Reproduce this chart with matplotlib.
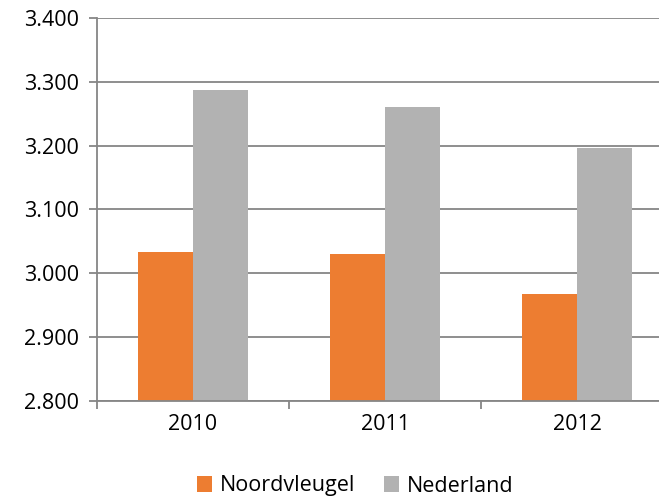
import numpy as np
import matplotlib.pyplot as plt
from matplotlib.ticker import FuncFormatter

years = ["2010", "2011", "2012"]
noordvleugel = [3034, 3031, 2967]
nederland = [3287, 3261, 3197]

plt.rcParams["font.family"] = ["Open Sans", "DejaVu Sans"]
FS = 15.5

fig = plt.figure(figsize=(6.59, 5.0), dpi=100)
ax = fig.add_axes([97 / 659, 99 / 500, 576 / 659, 383 / 500])

x = np.arange(len(years))
w = 1 / 3.5
ax.bar(x - w / 2, noordvleugel, w, color="#ED7D31", label="Noordvleugel", zorder=2)
ax.bar(x + w / 2, nederland, w, color="#B2B2B2", label="Nederland", zorder=2)

ax.set_xlim(-0.5, len(years) - 0.5)
ax.set_ylim(2800, 3400)
ax.set_yticks(np.arange(2800, 3401, 100))
ax.yaxis.set_major_formatter(FuncFormatter(lambda v, p: f"{v / 1000:.3f}"))
ax.grid(axis="y", color="#868686", linewidth=1.3, zorder=0)

# category boundaries as ticks, labels in the middle
ax.set_xticks(np.arange(-0.5, len(years), 1.0))
ax.set_xticklabels([])
ax.set_xticks(x, minor=True)
ax.set_xticklabels(years, minor=True)
ax.tick_params(axis="x", which="major", length=6, color="#868686", width=1.3)
ax.tick_params(axis="x", which="minor", length=0, pad=9, labelsize=FS)
ax.tick_params(axis="y", length=6, color="#868686", width=1.3, labelsize=FS, pad=7)

for s in ["top", "right"]:
    ax.spines[s].set_visible(False)
for s in ["left", "bottom"]:
    ax.spines[s].set_color("#868686")
    ax.spines[s].set_linewidth(1.3)

fig.legend(loc="center", bbox_to_anchor=(355 / 659, 0.028), ncol=2, frameon=False,
           fontsize=FS, handlelength=0.7, handleheight=0.7, columnspacing=1.35,
           handletextpad=0.35, borderpad=0)

fig.savefig("out.png", dpi=100)
